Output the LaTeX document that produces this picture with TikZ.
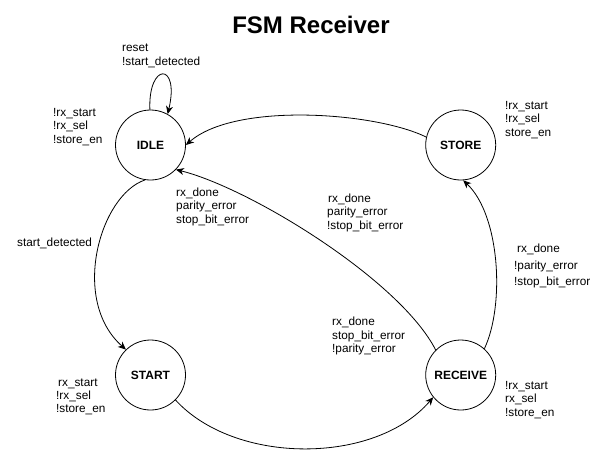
\documentclass[tikz,border=0pt]{standalone}
\usepackage{fontspec}
\setmainfont{Liberation Sans}
\usetikzlibrary{arrows.meta}
\tikzset{
  state/.style={circle, draw, line width=0.8pt, minimum size=70pt, inner sep=0pt, font=\fontsize{12}{14}\selectfont\bfseries},
  lbl/.style={anchor=west, align=left, inner sep=0pt, font=\fontsize{11.8}{13.3}\selectfont},
  tr/.style={line width=0.8pt, -{Stealth[length=8pt,width=7pt,inset=2.5pt]}},
}
\begin{document}
\begin{tikzpicture}[x=1pt,y=-1pt]
\useasboundingbox (0,0) rectangle (607,456);
\node[font=\fontsize{24}{28}\selectfont\bfseries] (title) at (311,25) {FSM Receiver};
\node[state] (idle) at (150.5,145) {IDLE};
\node[state] (store) at (460.7,145) {STORE};
\node[state] (start) at (150.5,375) {START};
\node[state] (recv) at (460.7,375) {RECEIVE};
% transitions
\draw[tr] (idle.91) .. controls (148,62) and (180,62) .. (idle.61);
\draw[tr] (store.167) .. controls (375,112) and (235,102) .. (idle.east);
\draw[tr] (idle.261) .. controls (100,195) and (70,300) .. (start.134);
\draw[tr] (start.-45) .. controls (235,465) and (375,465) .. (recv.219);
\draw[tr] (recv.135) .. controls (400,280) and (250,188) .. (idle.-44);
\draw[tr] (recv.48) .. controls (505,305) and (500,215) .. (store.-86);
% labels
\node[lbl] (lloop) at (122,56) {reset\\!start\_detected};
\node[lbl] (lidle) at (53,127) {!rx\_start\\!rx\_sel\\!store\_en};
\node[lbl] (lstore) at (505,120) {!rx\_start\\!rx\_sel\\store\_en};
\node[lbl] (lstart) at (56,397) {\hspace{2pt}rx\_start\\!rx\_sel\\!store\_en};
\node[lbl] (lrecv) at (505,400) {!rx\_start\\rx\_sel\\!store\_en};
\node[lbl] (lsd) at (17,243) {start\_detected};
\node[lbl] (le1) at (176,207) {rx\_done\\parity\_error\\[1pt]stop\_bit\_error};
\node[lbl] (le2) at (327,213) {\hspace{1pt}rx\_done\\parity\_error\\[1pt]!stop\_bit\_error};
\node[lbl] (le3) at (332,336) {rx\_done\\stop\_bit\_error\\!parity\_error};
\node[lbl] (lok) at (514,266) {\hspace{3pt}rx\_done\\[4pt]!parity\_error\\[3pt]!stop\_bit\_error};
\end{tikzpicture}
\end{document}
